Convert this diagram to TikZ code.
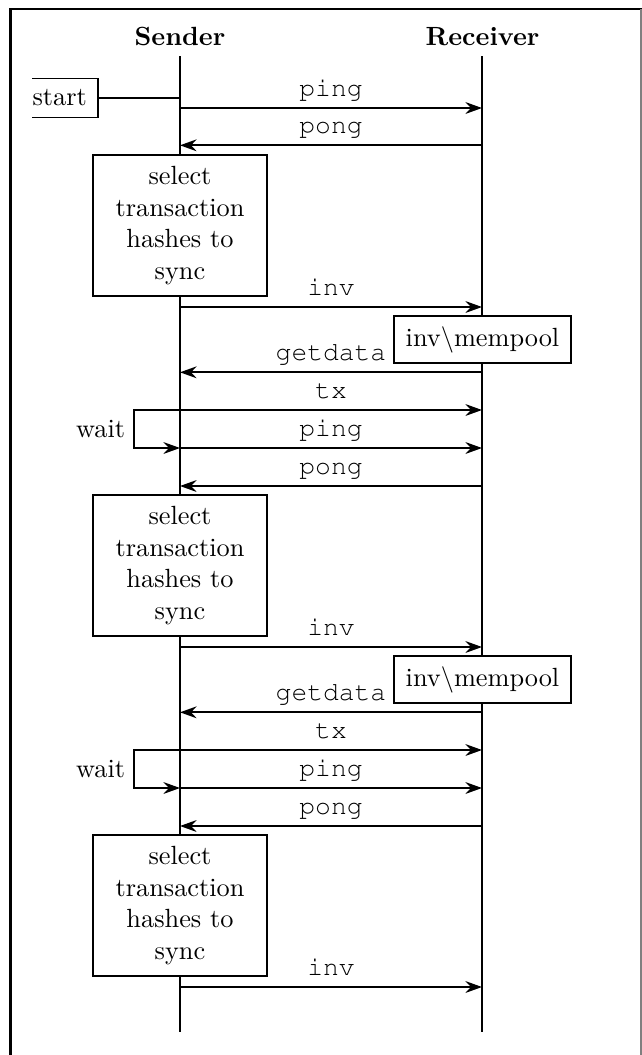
\documentclass[tikz,border=0pt]{standalone}
\usepackage[T1]{fontenc}
\usepackage{fontspec}
\usetikzlibrary{arrows.meta,calc}
\newcommand{\msgfont}{\fontencoding{T1}\fontfamily{pcr}\selectfont}
\tikzset{
  life/.style={line width=0.75pt},
  lifeend/.style={line width=1.05pt},
  msg/.style={line width=0.7pt,-{Stealth[length=6.3pt,width=4.5pt,inset=2.1pt]}},
  plain/.style={line width=0.7pt},
  lbl/.style={font=\msgfont, anchor=base, midway, yshift=4.4pt, inner sep=0pt},
  actbox/.style={draw, line width=0.7pt, fill=white, align=center,
    inner xsep=3.5pt, minimum width=66pt, minimum height=53.6pt},
  setbox/.style={draw, line width=0.7pt, fill=white, minimum width=67pt, minimum height=17.9pt, inner sep=0pt},
  head/.style={font=\bfseries, anchor=base}
}
\begin{document}
\begin{tikzpicture}[x=0.38pt,y=-0.38pt]
\useasboundingbox (0,0) rectangle (642,1055);
% outer frame
\draw[line width=1pt] (10.5,1055) -- (10.5,9) -- (642,9);
\draw[line width=0.6pt, gray] (641,9) -- (641,1055);

% headers
\node[head] (sender) at (180,45) {Sender};
\node[head] (receiver) at (482.5,45) {Receiver};

% lifelines
\coordinate (sTop) at (180,56);  \coordinate (sBot) at (180,1032);
\coordinate (rTop) at (482,56);  \coordinate (rBot) at (482,1032);
\coordinate (sTopE) at (180,97); \coordinate (sBotE) at (180,1017);
\coordinate (rTopE) at (482,97); \coordinate (rBotE) at (482,1017);
\draw[life] (sTop) -- (sBot);
\draw[life] (rTop) -- (rBot);
\draw[lifeend] (rTop) -- (rTopE);
\draw[lifeend] (sBotE) -- (sBot);
\draw[lifeend] (rBotE) -- (rBot);

% message coordinates on both lifelines
\foreach \n/\y in {ping1/108, pong1/145.3, inv1/307, get1/372.3, tx1/410, ping2/448, pong2/486,
                   inv2/647, get2/712.3, tx2/750, ping3/788, pong3/826, inv3/987}{
  \coordinate (s-\n) at (180,\y);
  \coordinate (r-\n) at (482,\y);
}

% start
\node[anchor=west, text width=24.7pt, align=left, inner sep=0pt, minimum height=14.4pt] (start) at (32,98) {start};
\draw[plain] (start.north west) -- (start.north east) -- (start.south east) -- (start.south west);
\draw[plain] (start.east) -- (start.east -| sTop);

% first cycle
\draw[msg] (s-ping1) -- (r-ping1) node[lbl] {ping};
\draw[msg] (r-pong1) -- (s-pong1) node[lbl] {pong};
\node[actbox] (sel1) at (180,225.5) {select\\transaction\\hashes to\\sync};
\draw[msg] (s-inv1) -- (r-inv1) node[lbl] {inv};
\draw[msg] (r-get1) -- (s-get1) node[lbl] {getdata};
\node[setbox] (mp1) at (482.5,339.5) {inv$\backslash$mempool};
\draw[msg] (s-tx1) -- (r-tx1) node[lbl] {tx};
\coordinate (w1a) at (134,410); \coordinate (w1b) at (134,448);
\draw[msg] (s-tx1) -- (w1a) -- (w1b) -- (s-ping2);
\node[anchor=east, inner sep=3.2pt] (wait1) at ($(w1a)!0.5!(w1b)$) {wait};
\draw[msg] (s-ping2) -- (r-ping2) node[lbl] {ping};
\draw[msg] (r-pong2) -- (s-pong2) node[lbl] {pong};

% second cycle
\node[actbox] (sel2) at (180,565.5) {select\\transaction\\hashes to\\sync};
\draw[msg] (s-inv2) -- (r-inv2) node[lbl] {inv};
\draw[msg] (r-get2) -- (s-get2) node[lbl] {getdata};
\node[setbox] (mp2) at (482.5,679.5) {inv$\backslash$mempool};
\draw[msg] (s-tx2) -- (r-tx2) node[lbl] {tx};
\coordinate (w2a) at (134,750); \coordinate (w2b) at (134,788);
\draw[msg] (s-tx2) -- (w2a) -- (w2b) -- (s-ping3);
\node[anchor=east, inner sep=3.2pt] (wait2) at ($(w2a)!0.5!(w2b)$) {wait};
\draw[msg] (s-ping3) -- (r-ping3) node[lbl] {ping};
\draw[msg] (r-pong3) -- (s-pong3) node[lbl] {pong};

% third cycle
\node[actbox] (sel3) at (180,905.5) {select\\transaction\\hashes to\\sync};
\draw[msg] (s-inv3) -- (r-inv3) node[lbl] {inv};
\end{tikzpicture}
\end{document}
